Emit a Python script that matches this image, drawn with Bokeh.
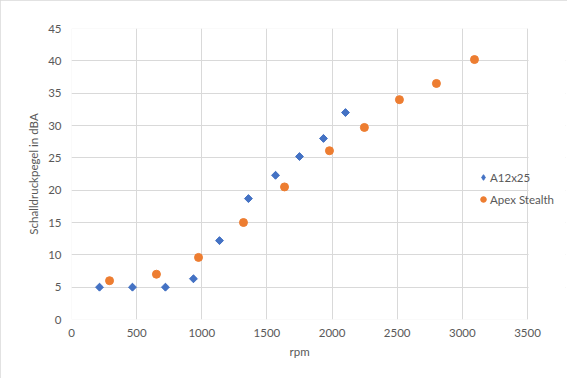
import math
from bokeh.plotting import figure
from bokeh.models import Range1d, FixedTicker, Legend, LegendItem, BoxAnnotation, Title
from bokeh.embed import file_html
from bokeh.resources import INLINE

# Data
a12_rpm = [215, 468, 721, 936, 1136, 1358, 1566, 1750, 1934, 2103]
a12_dba = [5.0, 5.0, 5.0, 6.3, 12.2, 18.7, 22.3, 25.2, 28.0, 32.0]
apex_rpm = [292, 652, 975, 1320, 1635, 1980, 2248, 2517, 2801, 3093]
apex_dba = [6.0, 7.0, 9.6, 15.0, 20.5, 26.1, 29.7, 34.0, 36.5, 40.2]

x_ticks = [0, 500, 1000, 1500, 2000, 2500, 3000, 3500]
y_ticks = [0, 5, 10, 15, 20, 25, 30, 35, 40, 45]
series_names = ["A12x25", "Apex Stealth"]
x_label = "rpm"
y_label = "Schalldruckpegel in dBA"

FONT = "Lato"
TXT = "#595959"
GRID = "#d9d9d9"
FS = "11.5px"
BLUE = "#4472C4"
ORANGE = "#ED7D31"

X_MAX = 3500
# frame is widened to the right so the legend can overhang the plot area
x_end = X_MAX * 494 / 456

p = figure(width=567, height=378, output_backend="svg", toolbar_location=None,
           x_range=Range1d(0, x_end), y_range=Range1d(0, 45),
           min_border_left=71, min_border_right=2, min_border_top=28, min_border_bottom=59)
p.styles = {"outline": "1px solid #d9d9d9", "outline-offset": "-1px"}
p.background_fill_color = "white"
p.border_fill_color = "white"
p.outline_line_color = None

for ax in (p.xaxis[0], p.yaxis[0]):
    ax.axis_line_color = None
    ax.major_tick_line_color = None
    ax.minor_tick_line_color = None
    ax.major_tick_out = 0
    ax.major_tick_in = 0
    ax.major_label_text_font = FONT
    ax.major_label_text_font_size = FS
    ax.major_label_text_color = TXT
    ax.axis_label_text_font = FONT
    ax.axis_label_text_font_size = FS
    ax.axis_label_text_color = TXT
    ax.axis_label_text_font_style = "normal"

p.xaxis.ticker = FixedTicker(ticks=x_ticks)
p.yaxis.ticker = FixedTicker(ticks=y_ticks)
p.yaxis.axis_label = y_label
p.xaxis.major_label_standoff = 9
p.yaxis.major_label_standoff = 10
p.yaxis.axis_label_standoff = 5

p.xgrid.ticker = FixedTicker(ticks=x_ticks)
p.ygrid.ticker = FixedTicker(ticks=y_ticks)
p.xgrid.grid_line_color = GRID
p.ygrid.grid_line_color = GRID

# hide gridlines beyond the plot area and draw its border
p.add_layout(BoxAnnotation(left=X_MAX + 8, fill_color="white", fill_alpha=1,
                           line_color=None, level="underlay"))
p.add_layout(BoxAnnotation(left=0, right=X_MAX, bottom=0, top=45, fill_alpha=0,
                           line_color=GRID, line_width=1, level="underlay"))

# diamond glyph used for the legend symbol (hidden beneath the rotated squares)
l1 = p.scatter(a12_rpm, a12_dba, marker="diamond", size=7, color=BLUE)
r1 = p.scatter(a12_rpm, a12_dba, marker="square", size=5.6, angle=math.pi / 4,
               color=BLUE)
r2 = p.scatter(apex_rpm, apex_dba, marker="circle", size=8, color=ORANGE)

# x-axis title, positioned at the centre of the 0-3500 plot area
p.add_layout(Title(text=x_label, align="left", offset=218, standoff=7,
                   text_font=FONT, text_font_size=FS, text_color=TXT,
                   text_font_style="normal"), "below")

legend = Legend(items=[LegendItem(label=series_names[0], renderers=[l1]),
                       LegendItem(label=series_names[1], renderers=[r2])],
                location=(405, 110), orientation="vertical")
legend.border_line_color = None
legend.background_fill_alpha = 0
legend.padding = 0
legend.margin = 0
legend.spacing = 2
legend.glyph_width = 14
legend.glyph_height = 20
legend.label_height = 20
legend.label_standoff = 0
legend.label_text_font = FONT
legend.label_text_font_size = FS
legend.label_text_color = TXT
p.add_layout(legend, "center")

open("out.html", "w").write(file_html(p, INLINE))
